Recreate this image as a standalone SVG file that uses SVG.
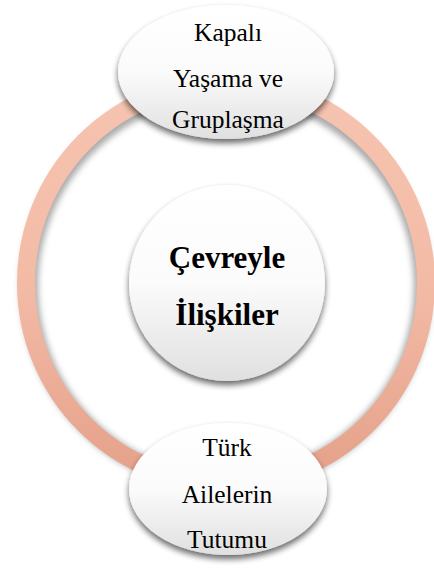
<svg xmlns="http://www.w3.org/2000/svg" width="434" height="568" viewBox="0 0 434 568">
  <defs>
    <linearGradient id="ringGrad" x1="0" y1="0" x2="0" y2="1">
      <stop offset="0" stop-color="#f6c4b1"/>
      <stop offset="0.5" stop-color="#f3bba6"/>
      <stop offset="1" stop-color="#e5a089"/>
    </linearGradient>
    <linearGradient id="nodeGrad" x1="0" y1="0" x2="0" y2="1">
      <stop offset="0" stop-color="#ffffff"/>
      <stop offset="0.5" stop-color="#fbfbfb"/>
      <stop offset="1" stop-color="#e0e0e0"/>
    </linearGradient>
    <filter id="shadow" x="-20%" y="-20%" width="140%" height="140%">
      <feGaussianBlur in="SourceAlpha" stdDeviation="3"/>
      <feOffset dx="0" dy="4" result="b"/>
      <feComponentTransfer><feFuncA type="linear" slope="0.6"/></feComponentTransfer>
      <feMerge><feMergeNode/><feMergeNode in="SourceGraphic"/></feMerge>
    </filter>
    <filter id="blur" x="-10%" y="-10%" width="120%" height="120%">
      <feGaussianBlur stdDeviation="3"/>
    </filter>
  </defs>
  <style>
    .lbl { font-family: "Liberation Serif", "Times New Roman", serif; font-size: 25.5px; fill: #000; text-anchor: middle; }
    .center { font-family: "Liberation Serif", "Times New Roman", serif; font-size: 31px; font-weight: bold; fill: #000; text-anchor: middle; }
    .node { fill: url(#nodeGrad); filter: url(#shadow); }
  </style>

  <g id="connectors">
    <circle cx="226" cy="286" r="197" fill="none" stroke="#555" stroke-width="18" opacity="0.5" filter="url(#blur)"/>
    <circle cx="226" cy="283" r="200" fill="none" stroke="url(#ringGrad)" stroke-width="18"/>
  </g>

  <g id="center-node">
    <circle class="node" cx="227" cy="283" r="98"/>
    <text class="center" x="227" y="268">Çevreyle</text>
    <text class="center" x="227" y="325">İlişkiler</text>
  </g>

  <g id="top-node">
    <ellipse class="node" cx="226" cy="72" rx="108" ry="67"/>
    <text class="lbl" x="228" y="41">Kapalı</text>
    <text class="lbl" x="228" y="87">Yaşama ve</text>
    <text class="lbl" x="228" y="128">Gruplaşma</text>
  </g>

  <g id="bottom-node">
    <ellipse class="node" cx="228" cy="489" rx="99" ry="66"/>
    <text class="lbl" x="227" y="456">Türk</text>
    <text class="lbl" x="227" y="503">Ailelerin</text>
    <text class="lbl" x="227" y="548">Tutumu</text>
  </g>
</svg>
